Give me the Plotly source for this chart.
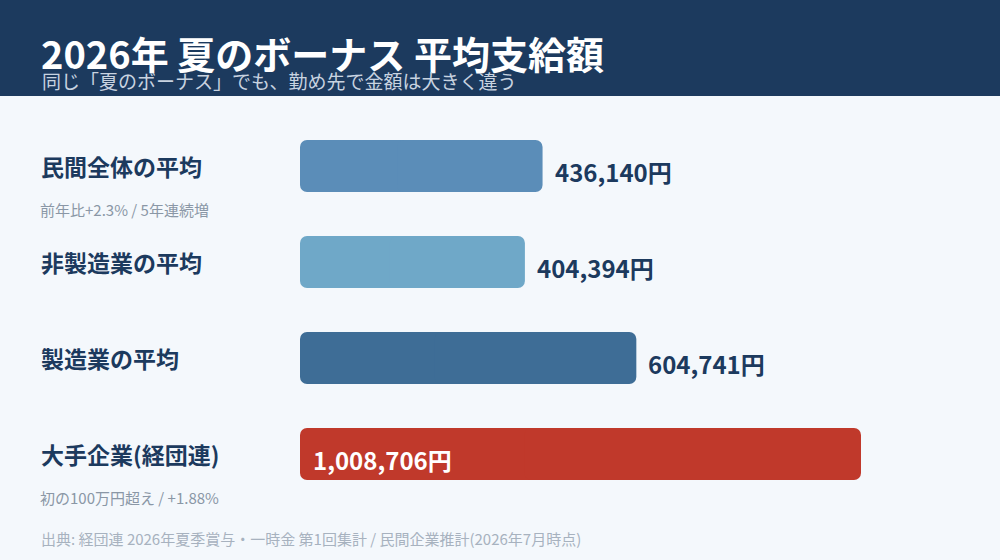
import plotly.graph_objects as go

categories = ["民間全体の平均", "非製造業の平均", "製造業の平均", "大手企業(経団連)"]
values = [436140, 404394, 604741, 1008706]
value_labels = ["436,140円", "404,394円", "604,741円", "1,008,706円"]
notes = {0: "前年比+2.3% / 5年連続増", 3: "初の100万円超え / +1.88%"}
bar_colors = ["#5b8db8", "#6fa8c8", "#3e6d96", "#c0392b"]

title = "2026年 夏のボーナス 平均支給額"
subtitle = "同じ「夏のボーナス」でも、勤め先で金額は大きく違う"
source = "出典: 経団連 2026年夏季賞与・一時金 第1回集計 / 民間企業推計(2026年7月時点)"

W, H = 1000, 560
L, R, T, B = 300, 0, 118, 58
PW, PH = W - L - R, H - T - B
FONT = "Noto Sans CJK JP, Noto Sans, sans-serif"
NAVY = "#1c3a5e"


def px(x):
    return (x - L) / PW


def py(y):
    return (H - B - y) / PH


fig = go.Figure()
# Each bar drawn as two overlapping halves so both ends get rounded corners
mid_hi = [v * 0.6 for v in values]
mid_lo = [v * 0.4 for v in values]
fig.add_trace(go.Bar(
    x=[-m for m in mid_hi], base=mid_hi, y=categories, orientation="h",
    marker=dict(color=bar_colors, cornerradius=7, line=dict(width=0)),
    width=52 / 96, hoverinfo="skip",
))
fig.add_trace(go.Bar(
    x=[v - m for v, m in zip(values, mid_lo)], base=mid_lo, y=categories, orientation="h",
    marker=dict(color=bar_colors, cornerradius=7, line=dict(width=0)),
    width=52 / 96, hoverinfo="skip",
))

annotations = []
# title / subtitle
annotations.append(dict(x=px(39), y=py(52), xref="paper", yref="paper", text=f"<b>{title}</b>",
                        showarrow=False, xanchor="left", yanchor="middle",
                        font=dict(family=FONT, size=38, color="white")))
annotations.append(dict(x=px(40), y=py(81), xref="paper", yref="paper", text=subtitle,
                        showarrow=False, xanchor="left", yanchor="middle",
                        font=dict(family=FONT, size=19, color="#c8d3e0")))
# category labels
for i, c in enumerate(categories):
    annotations.append(dict(x=px(39), y=c, xref="paper", yref="y", text=f"<b>{c}</b>",
                            showarrow=False, xanchor="left", yanchor="middle",
                            font=dict(family=FONT, size=23, color=NAVY)))
for i, n in notes.items():
    annotations.append(dict(x=px(38), y=categories[i], xref="paper", yref="y", text=n,
                            showarrow=False, xanchor="left", yanchor="middle", yshift=-43,
                            font=dict(family=FONT, size=15, color="#8a97a6")))
# value labels
for i, (c, v, lab) in enumerate(zip(categories, values, value_labels)):
    if v == max(values):
        annotations.append(dict(x=0, y=c, xref="x", yref="y", text=f"<b>{lab}</b>",
                                showarrow=False, xanchor="left", yanchor="middle",
                                xshift=11, yshift=-5,
                                font=dict(family=FONT, size=24, color="white")))
    else:
        annotations.append(dict(x=v, y=c, xref="x", yref="y", text=f"<b>{lab}</b>",
                                showarrow=False, xanchor="left", yanchor="middle",
                                xshift=10, yshift=-5,
                                font=dict(family=FONT, size=24, color=NAVY)))
# source
annotations.append(dict(x=px(39), y=py(538), xref="paper", yref="paper", text=source,
                        showarrow=False, xanchor="left", yanchor="middle",
                        font=dict(family=FONT, size=15, color="#a7b2bf")))

fig.update_layout(
    width=W, height=H,
    margin=dict(l=L, r=R, t=T, b=B, pad=0),
    paper_bgcolor="#f4f8fc", plot_bgcolor="#f4f8fc",
    showlegend=False, barmode="overlay",
    xaxis=dict(range=[0, PW * 1008706 / 561], visible=False, fixedrange=True),
    yaxis=dict(categoryorder="array", categoryarray=categories, range=[3.5, -0.5],
               visible=False, fixedrange=True),
    shapes=[dict(type="rect", xref="paper", yref="paper", x0=px(0), x1=px(W),
                 y0=py(96), y1=py(0), fillcolor="#1c3a5e", line=dict(width=0), layer="below")],
    annotations=annotations,
    font=dict(family=FONT),
)

fig.write_html("out.html", config={"displayModeBar": False},
               post_script="document.body.style.margin='0';document.body.style.background='#f4f8fc';")
